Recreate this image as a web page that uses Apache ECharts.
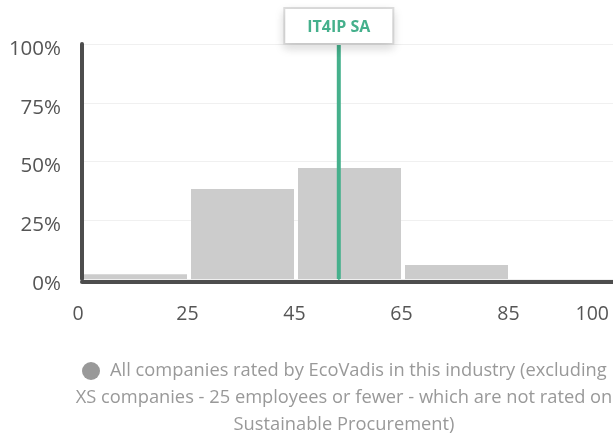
<!DOCTYPE html>
<html>
<head>
<meta charset="utf-8">
<script src="https://cdn.jsdelivr.net/npm/echarts@6/dist/echarts.min.js"></script>
<style>
  html, body { margin: 0; padding: 0; background: #ffffff; }
  #chart { width: 613px; height: 436px; }
</style>
</head>
<body>
<div id="chart"></div>
<script>
// Score bins (category boundaries) and share of companies per bin (%)
const binEdges = [0, 25, 45, 65, 85, 100];
const binShares = [2.0, 38.3, 47.2, 6.0, 0];
const yTicks = [0, 25, 50, 75, 100];
const companyName = 'IT4IP SA';
const companyScore = 53;
const legendLine1 = 'All companies rated by EcoVadis in this industry (excluding';
const legendRest = ['XS companies - 25 employees or fewer - which are not rated on', 'Sustainable Procurement)'];

// map a score onto the bin axis (each bin one unit wide)
function scoreToBinPos(s) {
  for (let i = 0; i < binEdges.length - 1; i++) {
    if (s >= binEdges[i] && s <= binEdges[i + 1]) {
      return i + (s - binEdges[i]) / (binEdges[i + 1] - binEdges[i]);
    }
  }
  return 0;
}
const markerPos = scoreToBinPos(companyScore);

const chart = echarts.init(document.getElementById('chart'), null, { renderer: 'canvas' });
const font = '"Open Sans", sans-serif';

chart.setOption({
  animation: false,
  textStyle: { fontFamily: font },
  grid: { left: 82, width: 535, top: 44, bottom: 157, containLabel: false, outerBoundsMode: 'none' },
  legend: {
    data: ['all'],
    left: 82,
    top: 362,
    padding: 0,
    icon: 'circle',
    itemWidth: 18,
    itemHeight: 18,
    itemGap: 10,
    itemStyle: { color: '#999999' },
    formatter: function () { return legendLine1; },
    textStyle: { fontFamily: font, fontSize: 18.3, color: '#999999', padding: [0, 0, 0, 5] },
    selectedMode: false
  },
  title: {
    text: legendRest.join('\n'),
    left: 339,
    top: 379,
    textAlign: 'center',
    textStyle: { fontFamily: font, fontSize: 18.3, fontWeight: 'normal', color: '#999999', lineHeight: 27.5 }
  },
  xAxis: {
    type: 'value',
    min: 0,
    max: binEdges.length - 1,
    interval: 1,
    axisLine: { show: true, onZero: false, lineStyle: { color: '#4d4d4d', width: 4 } },
    offset: 3,
    axisTick: { show: false },
    splitLine: { show: false },
    axisLabel: {
      margin: 22,
      alignMaxLabel: 'right',
      formatter: function (v) {
        const i = Math.round(v);
        const key = i === 0 ? 'f' : (i === binEdges.length - 1 ? 'l' : 'm');
        return '{' + key + '|' + binEdges[i] + '}';
      },
      rich: {
        f: { fontFamily: font, fontSize: 19.5, color: '#555555', padding: [0, 8, 0, 0] },
        m: { fontFamily: font, fontSize: 19.5, color: '#555555', padding: [0, 3, 0, 0] },
        l: { fontFamily: font, fontSize: 19.5, color: '#555555', padding: [0, 8, 0, 0] }
      }
    }
  },
  yAxis: {
    type: 'value',
    min: 0,
    max: 100,
    interval: 25,
    offset: 3,
    axisLine: { show: true, lineStyle: { color: '#4d4d4d', width: 4 } },
    axisTick: { show: false },
    splitLine: { show: true, lineStyle: { color: '#f0f0f0', width: 1 } },
    axisLabel: {
      margin: 18,
      formatter: function (v) { return yTicks.indexOf(v) >= 0 ? '{a|' + v + '%}' : ''; },
      rich: { a: { fontFamily: font, fontSize: 20.5, color: '#555555', padding: [10, 0, 0, 0] } }
    }
  },
  series: [
    {
      name: 'all',
      type: 'bar',
      data: binShares.map(function (v, i) { return [i + 0.5, v]; }),
      barWidth: 103,
      itemStyle: { color: '#cccccc' },
      emphasis: { disabled: true },
      z: 2
    },
    {
      name: companyName,
      type: 'line',
      data: [
        [markerPos, 0],
        {
          value: [markerPos, 100],
          label: {
            show: true,
            position: 'top',
            distance: 0,
            formatter: companyName,
            fontFamily: font,
            fontSize: 16,
            fontWeight: 'bold',
            color: '#45b08c',
            backgroundColor: '#ffffff',
            borderColor: '#dddddd',
            borderWidth: 2,
            padding: [10, 22, 8, 22],
            shadowColor: 'rgba(0,0,0,0.12)',
            shadowBlur: 10,
            shadowOffsetY: 4
          }
        }
      ],
      symbol: 'circle',
      symbolSize: 2,
      showSymbol: true,
      itemStyle: { color: '#45b08c' },
      lineStyle: { color: '#45b08c', width: 4 },
      emphasis: { disabled: true },
      z: 5
    }
  ]
});
</script>
</body>
</html>
